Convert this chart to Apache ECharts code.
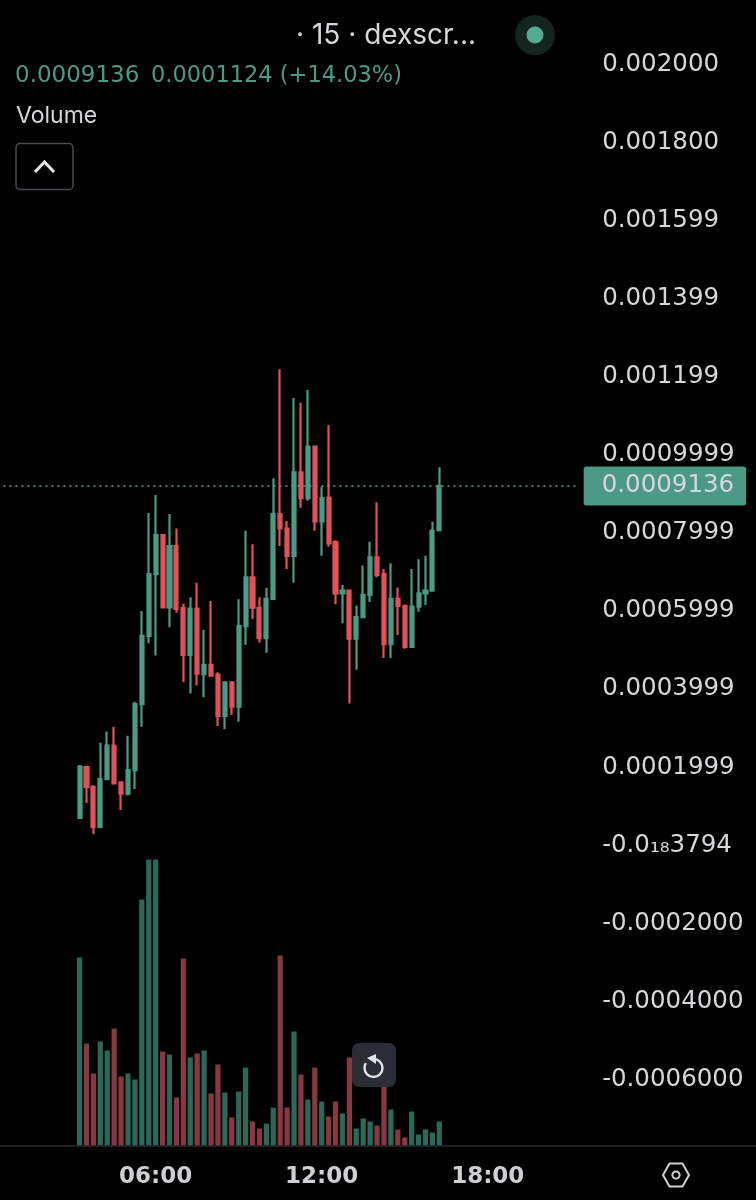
<!DOCTYPE html>
<html>
<head>
<meta charset="utf-8">
<style>html,body{margin:0;padding:0;background:#000}#c{width:756px;height:1200px}</style>
<script src="https://cdn.jsdelivr.net/npm/echarts@6/dist/echarts.min.js"></script>
</head>
<body>
<div id="c"></div>
<script>
// prices in millionths
const opens  = [64,194,144,40,163,249,155,126,186,355,530,688,788,603,760,601,481,600,432,456,431,325,411,349,555,680,601,524,625,842,805,735,949,883,1015,823,884,770,639,646,523,578,635,731,688,509,625,607,502,605,639,646,801];
const closes = [195,143,40,163,249,152,126,186,355,530,688,788,603,760,599,481,600,433,456,428,325,411,349,555,680,602,524,625,842,805,735,949,883,1015,823,883,767,639,646,523,578,635,731,686,509,625,607,502,605,639,646,799,913.6];
const highs  = [199,195,145,256,285,297,155,274,361,594,845,891,788,842,805,612,629,666,545,620,437,411,411,624,799,765,629,653,934,1213,824,1139,1128,1160,1015,912,1070,775,660,646,607,710,771,872,701,716,654,607,701,726,735,822,962];
const lows   = [63,102,22,40,161,150,84,121,138,297,511,480,603,552,589,411,383,403,373,428,299,291,327,310,507,573,513,487,625,760,701,666,858,876,799,735,758,611,562,357,443,578,617,680,473,473,532,497,499,592,609,646,799];
const volumes = [188,102,72,104,95,117,69,72,66,246,286,286,94,91,48,187,88,92,95,52,81,53,28,54,78,24,17,22,38,190,38,114,71,46,78,44,29,44,32,88,17,27,24,20,70,36,16,8,34,11,16,13,24];
const priceTicks = ['-0.0006000','-0.0004000','-0.0002000','-0.0\u2081\u20883794','0.0001999','0.0003999','0.0005999','0.0007999','0.0009999','0.001199','0.001399','0.001599','0.001800','0.002000'];
const timeTicks = ['06:00','12:00','18:00'];
const lastPrice = 0.0009136;
const SCALE = 1e-6, LEAD = 11, BANDS = 84;

const GREEN='#4c9a85', RED='#e0525a', VGREEN='#2c6858', VRED='#873841', TXT='#d6d7db';
const FONT='Inter, Roboto, "Noto Sans", sans-serif';
const NUMFONT='"DejaVu Sans", sans-serif';

const categories=[];
for(let i=0;i<BANDS;i++){const m=30+15*i;categories.push(String(Math.floor(m/60)).padStart(2,'0')+':'+String(m%60).padStart(2,'0'));}
const pad=Array(LEAD).fill(null);
const candleData=pad.map(()=>'-').concat(opens.map((o,i)=>[o*SCALE,closes[i]*SCALE,lows[i]*SCALE,highs[i]*SCALE]));
const volData=pad.map(()=>'-').concat(volumes.map((v,i)=>({value:v,itemStyle:{color:closes[i]>=opens[i]?VGREEN:VRED}})));

const band=6.94, gridLeft=-1.81, gridW=BANDS*band;
const chart=echarts.init(document.getElementById('c'),null,{renderer:'canvas'});
const txt=(x,y,s,size,fill,fam)=>({type:'text',x,y,z:50,style:{text:s,font:`${size}px ${fam||FONT}`,fill,textVerticalAlign:'middle'}});
chart.setOption({
  animation:false,
  backgroundColor:'#000',
  grid:[
    {left:gridLeft,width:gridW,top:62,height:1015},
    {left:gridLeft,width:gridW,top:859.5,height:286}
  ],
  xAxis:[
    {type:'category',gridIndex:0,data:categories,axisLine:{show:false},axisTick:{show:false},axisLabel:{show:false},splitLine:{show:false}},
    {type:'category',gridIndex:1,data:categories,axisLine:{show:false},axisTick:{show:false},splitLine:{show:false},
     axisLabel:{interval:(i,v)=>timeTicks.includes(v),color:'#cfd0d4',fontFamily:NUMFONT,fontWeight:'bold',fontSize:23,margin:20,hideOverlap:false}}
  ],
  yAxis:[
    {type:'value',gridIndex:0,position:'right',min:-0.0006,max:0.002,interval:0.0002,splitLine:{show:false},axisLine:{show:false},axisTick:{show:false},
     axisLabel:{margin:21,color:TXT,fontFamily:NUMFONT,fontSize:24.5,
       rich:{t:{color:TXT,fontFamily:NUMFONT,fontSize:24.5,padding:[5,0,0,0]}},
       formatter:v=>'{t|'+priceTicks[Math.round((v+0.0006)/0.0002)]+'}'}},
    {type:'value',gridIndex:1,min:0,max:286,show:false}
  ],
  series:[
    {type:'candlestick',xAxisIndex:0,yAxisIndex:0,data:candleData,barWidth:3.6,
     itemStyle:{color:GREEN,color0:RED,borderColor:GREEN,borderColor0:RED,borderWidth:2.2}},
    {type:'line',xAxisIndex:0,yAxisIndex:0,data:categories.map(()=>lastPrice),symbol:'none',silent:true,z:5,
     lineStyle:{color:'#5aa892',type:[2,4],width:1.5},
     endLabel:{show:true,distance:6,color:TXT,fontFamily:NUMFONT,fontSize:24.5,backgroundColor:GREEN,borderRadius:3,padding:[8,12,6,18],
              formatter:()=>lastPrice.toFixed(7)}},
    {type:'bar',xAxisIndex:1,yAxisIndex:1,data:volData,barWidth:5.2}
  ],
  graphic:[
    {type:'line',z:40,shape:{x1:0,y1:1146,x2:756,y2:1146},style:{stroke:'#2b2b33',lineWidth:1.5}},
    txt(296,35.5,'\u00b7 15 \u00b7 dexscr...',28,TXT),
    {type:'circle',z:40,shape:{cx:535,cy:35,r:20},style:{fill:'#14251f'}},
    {type:'circle',z:41,shape:{cx:535,cy:35,r:8.5},style:{fill:'#55ab92'}},
    txt(15,76.5,'0.0009136',23,GREEN,NUMFONT),
    txt(151,76.5,'0.0001124 (+14.03%)',22.5,GREEN,NUMFONT),
    txt(16,116,'Volume',23,TXT),
    {type:'rect',z:40,shape:{x:16,y:143.5,width:57,height:46,r:4},style:{fill:'#000',stroke:'#4a4b55',lineWidth:1.5}},
    {type:'polyline',z:41,shape:{points:[[35,172],[44.5,162],[54,172]]},style:{fill:'none',stroke:'#e6e6e8',lineWidth:3}},
    {type:'rect',z:60,shape:{x:352,y:1043,width:44,height:44,r:7},style:{fill:'#2a2c36'}},
    {type:'arc',z:61,shape:{cx:373.5,cy:1068,r:9,startAngle:-1.57,endAngle:3.7,clockwise:true},style:{fill:'none',stroke:'#e3e3e8',lineWidth:2.4}},
    {type:'polygon',z:61,shape:{points:[[376,1054],[376,1064],[367,1058]]},style:{fill:'#e3e3e8'}},
    {type:'polygon',z:40,shape:{points:[[663,1175],[669.5,1163.5],[682.5,1163.5],[689,1175],[682.5,1186.5],[669.5,1186.5]]},style:{fill:'none',stroke:'#cfd0d4',lineWidth:2}},
    {type:'circle',z:40,shape:{cx:676,cy:1175,r:3.6},style:{fill:'none',stroke:'#cfd0d4',lineWidth:2}}
  ]
});
</script>
</body>
</html>
